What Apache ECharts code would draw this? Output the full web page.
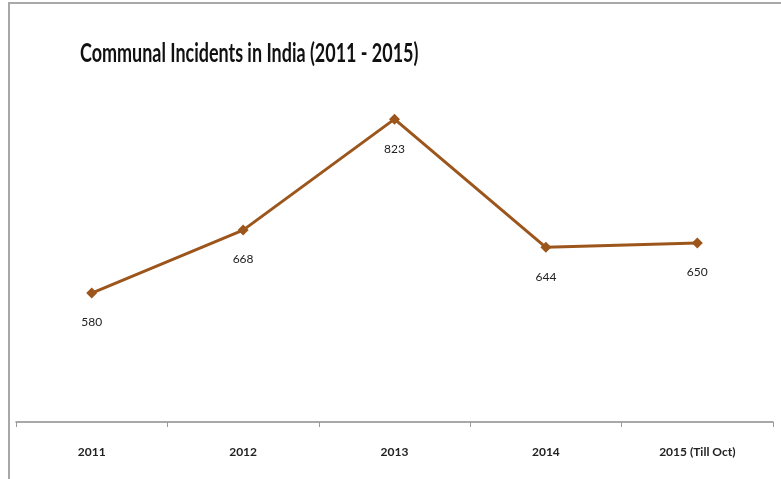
<!DOCTYPE html>
<html>
<head>
<meta charset="utf-8">
<script src="https://cdn.jsdelivr.net/npm/echarts@6/dist/echarts.min.js"></script>
<style>
  html, body { margin: 0; padding: 0; background: #fff; }
  #chart { width: 781px; height: 479px; }
</style>
</head>
<body>
<div id="chart"></div>
<script>
// Yearly communal incident counts
var years = ['2011', '2012', '2013', '2014', '2015 (Till Oct)'];
var incidents = [580, 668, 823, 644, 650];
var chartTitle = 'Communal Incidents in India (2011 - 2015)';

var chart = echarts.init(document.getElementById('chart'));
chart.setOption({
  backgroundColor: '#ffffff',
  animation: false,
  graphic: [
    {
      type: 'rect',
      shape: { x: 9, y: 3, width: 800, height: 500 },
      style: { fill: 'none', stroke: '#a8a8a8', lineWidth: 2 },
      silent: true
    },
    {
      type: 'text',
      x: 80,
      y: 41,
      scaleX: 0.69,
      style: {
        text: chartTitle,
        font: 'bold 26px Lato, "Open Sans", sans-serif',
        fill: '#111111'
      }
    }
  ],
  grid: { left: 16, right: 8, top: 64, bottom: 57 },
  xAxis: {
    type: 'category',
    data: years,
    boundaryGap: true,
    axisLine: { lineStyle: { color: '#8c8c8c', width: 1.5 } },
    axisTick: { show: true, length: 5, lineStyle: { color: '#9a9a9a' } },
    axisLabel: {
      color: '#222222',
      fontFamily: 'Lato, "Open Sans", sans-serif',
      fontWeight: 'bold',
      fontSize: 12,
      margin: 24
    }
  },
  yAxis: {
    type: 'value',
    min: 400,
    max: 900,
    show: false,
    splitLine: { show: false }
  },
  series: [{
    type: 'line',
    data: incidents,
    symbol: 'diamond',
    symbolSize: 11,
    lineStyle: { color: '#9c561c', width: 3 },
    itemStyle: { color: '#9c561c' },
    label: {
      show: true,
      position: 'bottom',
      distance: 18,
      color: '#222222',
      fontFamily: 'Lato, "Open Sans", sans-serif',
      fontSize: 12
    }
  }]
});
</script>
</body>
</html>
